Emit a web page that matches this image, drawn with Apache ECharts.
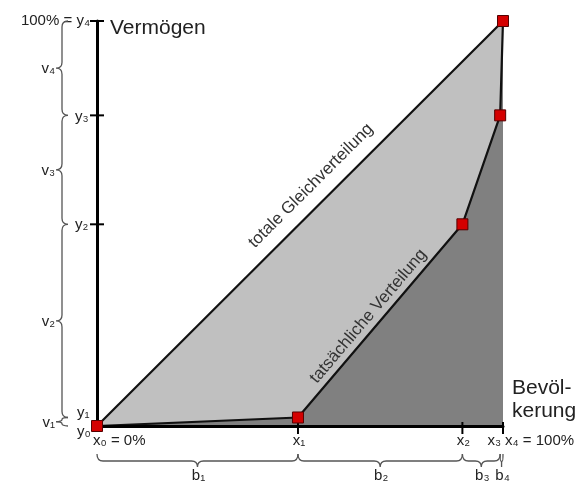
<!DOCTYPE html>
<html><head><meta charset="utf-8">
<script src="https://cdn.jsdelivr.net/npm/echarts@6/dist/echarts.min.js"></script>
<style>html,body{margin:0;padding:0;background:#fff}#c{width:575px;height:483px}</style>
</head><body><div id="c"></div>
<script>
// ---- data ----
const xValues = [0, 49.5, 90, 99.3, 100];      // x0..x4 (population share, %)
const yValues = [0, 2.1, 49.8, 76.7, 100];     // y0..y4 (wealth share, %)
const equality = [[0, 0], [100, 100]];
const xLabels = ['x₀ = 0%', 'x₁', 'x₂', 'x₃', 'x₄ = 100%'];
const yLabels = ['y₀', 'y₁', 'y₂', 'y₃', '100% = y₄'];
const bLabels = ['b₁', 'b₂', 'b₃', 'b₄'];
const vLabels = ['v₁', 'v₂', 'v₃', 'v₄'];
const yTitle = 'Vermögen';
const xTitle = ['Bevöl-', 'kerung'];
const equalityLabel = 'totale Gleichverteilung';
const lorenzLabel = 'tatsächliche Verteilung';
const lorenz = xValues.map((x, i) => [x, yValues[i]]);

const FONT = '"Liberation Sans", Arial, sans-serif';
const TXT = '#222';
const SMALL = 15;

function txt(text, x, y, align, vAlign, size, rot, fill) {
  return { type: 'text', x: x, y: y, rotation: rot || 0,
    style: { text: text, x: 0, y: 0, fill: fill || TXT, font: (size || SMALL) + 'px ' + FONT,
      align: align, verticalAlign: vAlign } };
}
function vBrace(X, ya, yb) {
  const r = Math.min(6, (yb - ya) / 4), h = 6, m = (ya + yb) / 2;
  return 'M' + (X + h) + ',' + ya + ' Q' + X + ',' + ya + ' ' + X + ',' + (ya + r) +
    ' L' + X + ',' + (m - r) + ' Q' + X + ',' + m + ' ' + (X - h) + ',' + m +
    ' Q' + X + ',' + m + ' ' + X + ',' + (m + r) +
    ' L' + X + ',' + (yb - r) + ' Q' + X + ',' + yb + ' ' + (X + h) + ',' + yb;
}
function hBrace(Y, xa, xb) {
  const r = Math.min(6, (xb - xa) / 4), h = 7, m = (xa + xb) / 2;
  return 'M' + xa + ',' + (Y - h) + ' Q' + xa + ',' + Y + ' ' + (xa + r) + ',' + Y +
    ' L' + (m - r) + ',' + Y + ' Q' + m + ',' + Y + ' ' + m + ',' + (Y + 6) +
    ' Q' + m + ',' + Y + ' ' + (m + r) + ',' + Y +
    ' L' + (xb - r) + ',' + Y + ' Q' + xb + ',' + Y + ' ' + xb + ',' + (Y - h);
}
function alongLabel(api, a, b, frac, off, text) {
  const p1 = api.coord(a), p2 = api.coord(b);
  const ang = Math.atan2(p1[1] - p2[1], p2[0] - p1[0]);
  const px = p1[0] + (p2[0] - p1[0]) * frac, py = p1[1] + (p2[1] - p1[1]) * frac;
  const x = px - Math.sin(ang) * off, y = py - Math.cos(ang) * off;
  return txt(text, x, y, 'center', 'middle', 17, ang, '#333');
}

function renderDecor(params, api) {
  const ch = [];
  const o = api.coord([0, 0]);
  const X0 = o[0], Y0 = o[1];
  const braceStyle = { stroke: '#555', lineWidth: 1.3, fill: null };
  // ticks
  [1, 2, 4].forEach(i => {
    const p = api.coord([xValues[i], 0]);
    ch.push({ type: 'line', shape: { x1: p[0], y1: p[1] - 4, x2: p[0], y2: p[1] + 8 }, style: { stroke: '#000', lineWidth: 2 } });
  });
  [2, 3, 4].forEach(i => {
    const p = api.coord([0, yValues[i]]);
    ch.push({ type: 'line', shape: { x1: p[0] - 7, y1: p[1], x2: p[0] + 7, y2: p[1] }, style: { stroke: '#000', lineWidth: 2 } });
  });
  // x labels
  xValues.forEach((v, i) => {
    const p = api.coord([v, 0]);
    const y = Y0 + 15;
    if (i === 0) ch.push(txt(xLabels[i], p[0] - 4, y, 'left', 'middle'));
    else if (i === 3) ch.push(txt(xLabels[i], p[0] + 1, y, 'right', 'middle'));
    else if (i === 4) ch.push(txt(xLabels[i], p[0] + 2, y, 'left', 'middle'));
    else ch.push(txt(xLabels[i], p[0] + 1, y, 'center', 'middle'));
  });
  // y labels
  yValues.forEach((v, i) => {
    const p = api.coord([0, v]);
    if (i === 4) ch.push(txt(yLabels[i], X0 - 7, p[1], 'right', 'middle'));
    else if (i === 1) ch.push(txt(yLabels[i], X0 - 20, p[1] - 5, 'left', 'middle'));
    else if (i === 0) ch.push(txt(yLabels[i], X0 - 20, p[1] + 6, 'left', 'middle'));
    else ch.push(txt(yLabels[i], X0 - 22, p[1] + 1, 'left', 'middle'));
  });
  // vertical braces with v labels
  const BX = X0 - 35;
  for (let i = 0; i < 4; i++) {
    const ya = api.coord([0, yValues[i + 1]])[1], yb = api.coord([0, yValues[i]])[1];
    ch.push({ type: 'path', shape: { pathData: vBrace(BX, ya, yb) }, style: braceStyle });
    ch.push(txt(vLabels[i], BX - 7, (ya + yb) / 2 + 1, 'right', 'middle'));
  }
  // horizontal braces with b labels
  const BY = Y0 + 35;
  for (let i = 0; i < 4; i++) {
    const xa = api.coord([xValues[i], 0])[0], xb = api.coord([xValues[i + 1], 0])[0];
    ch.push({ type: 'path', shape: { pathData: hBrace(BY, xa, xb) }, style: braceStyle });
    ch.push(txt(bLabels[i], (xa + xb) / 2 + 1, BY + 15, 'center', 'middle'));
  }
  // titles
  const top = api.coord([0, 100]);
  ch.push(txt(yTitle, X0 + 13, top[1] + 7, 'left', 'middle', 21));
  const right = api.coord([100, 0]);
  ch.push(txt(xTitle[0], right[0] + 9, Y0 - 38, 'left', 'middle', 21));
  ch.push(txt(xTitle[1], right[0] + 9, Y0 - 15, 'left', 'middle', 21));
  // rotated labels
  ch.push(alongLabel(api, equality[0], equality[1], 0.56, 19, equalityLabel));
  ch.push(alongLabel(api, lorenz[1], lorenz[2], 0.484, 12, lorenzLabel));
  return { type: 'group', children: ch };
}

const chart = echarts.init(document.getElementById('c'));
chart.setOption({
  animation: false,
  grid: { left: 97, right: 72, top: 21, bottom: 57 },
  xAxis: { type: 'value', min: 0, max: 100, z: 3,
    axisLine: { show: true, onZero: true, lineStyle: { color: '#000', width: 3 } },
    axisTick: { show: false }, axisLabel: { show: false }, splitLine: { show: false } },
  yAxis: { type: 'value', min: 0, max: 100, z: 3,
    axisLine: { show: true, onZero: true, lineStyle: { color: '#000', width: 3 } },
    axisTick: { show: false }, axisLabel: { show: false }, splitLine: { show: false } },
  series: [
    { type: 'line', data: equality, z: 1, showSymbol: false, silent: true,
      lineStyle: { color: '#111', width: 2.2 }, areaStyle: { color: '#c0c0c0', opacity: 1 } },
    { type: 'line', data: lorenz, z: 2, showSymbol: false, silent: true,
      lineStyle: { color: '#111', width: 2.2 }, areaStyle: { color: '#808080', opacity: 1 } },
    { type: 'custom', data: [[0, 0]], z: 4, silent: true, clip: false, renderItem: renderDecor },
    { type: 'scatter', data: lorenz, z: 6, symbol: 'rect', symbolSize: 11, silent: true,
      itemStyle: { color: '#d40000', borderColor: '#500', borderWidth: 1, opacity: 1 } }
  ]
});
</script></body></html>
